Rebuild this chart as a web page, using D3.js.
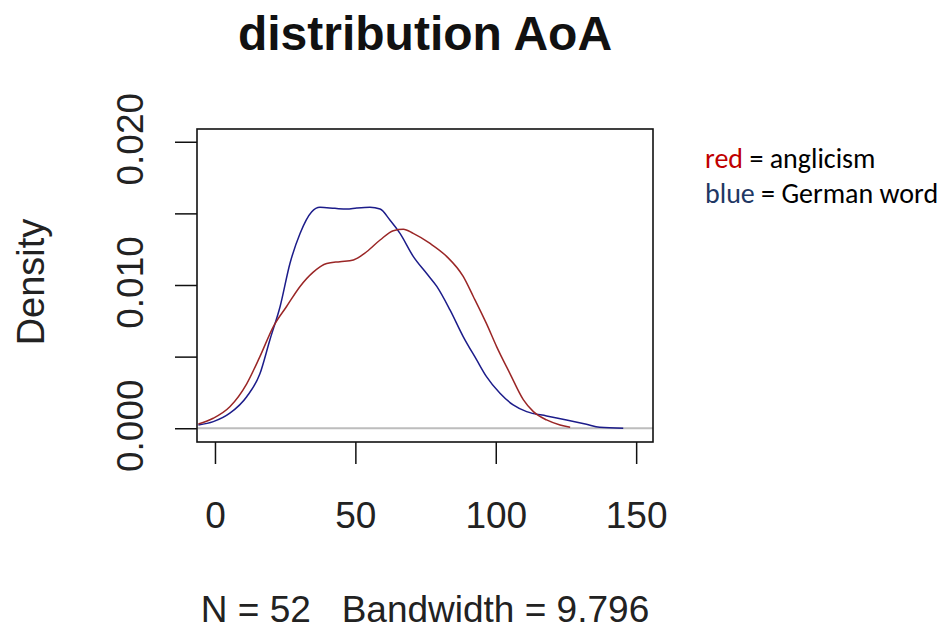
<!DOCTYPE html>
<html>
<head>
<meta charset="utf-8">
<script src="https://cdn.jsdelivr.net/npm/d3@7"></script>
<style>
  html, body { margin: 0; padding: 0; background: #fff; }
  svg { display: block; }
</style>
</head>
<body>
<svg id="chart" width="944" height="632"></svg>
<script>
// Kernel density estimates of age of acquisition (AoA)
const redAge = [-5.9, -0.6, 5.3, 11.3, 16, 20.8, 25.5, 30.3, 35, 39.8, 44.5, 49.3, 54, 58.8, 63.5, 67.1, 70.6, 76.6, 82.5, 88.4, 92, 96.7, 100.3, 105.1, 109.8, 113.4, 118.1, 122.9, 126.5];
const redDensity = [0.0003, 0.0007, 0.0015, 0.0031, 0.005, 0.0071, 0.0085, 0.0099, 0.0109, 0.0115, 0.01163, 0.01175, 0.01232, 0.01314, 0.01379, 0.01389, 0.0136, 0.0129, 0.012, 0.0106, 0.0092, 0.0073, 0.0057, 0.0038, 0.002, 0.00116, 0.00058, 0.00023, 0.00007];

const blueAge = [-5.9, -0.6, 5.3, 11.3, 16, 19.6, 23.2, 26.7, 30.3, 34.4, 37.4, 42.7, 46.9, 50.5, 55.2, 58.8, 62.3, 65.9, 70.6, 75.4, 79, 83.7, 88.4, 93.2, 96.7, 101.5, 106.2, 111, 118.1, 125.2, 132.3, 137, 145.4];
const blueDensity = [0.00023, 0.00046, 0.00105, 0.0022, 0.0038, 0.0062, 0.0085, 0.0115, 0.0136, 0.0151, 0.01542, 0.01535, 0.0153, 0.01537, 0.01542, 0.0153, 0.01454, 0.0136, 0.012, 0.0108, 0.0099, 0.00826, 0.0064, 0.00477, 0.0036, 0.00244, 0.00163, 0.00116, 0.00086, 0.00058, 0.00028, 0.00007, 0];

const xTicks = [0, 50, 100, 150];
const yTicks = [0, 0.005, 0.010, 0.015, 0.020];
const yTickLabels = ["0.000", "", "0.010", "", "0.020"];

const titleText = "distribution AoA";
const yLabel = "Density";
const subText = "N = 52   Bandwidth = 9.796";

const legendItems = [
  { key: "red", rest: " = anglicism", color: "#c00000" },
  { key: "blue", rest: " = German word", color: "#1f3864" }
];

const svg = d3.select("#chart");
const box = { left: 197, top: 129, right: 653, bottom: 442 };

const x = d3.scaleLinear().domain([-6.4, 156]).range([box.left, box.right]);
const y = d3.scaleLinear().domain([-0.00096, 0.02089]).range([box.bottom, box.top]);

const axisFont = "Liberation Sans, Arial, sans-serif";

// title
svg.append("text")
  .attr("x", 425).attr("y", 50)
  .attr("text-anchor", "middle")
  .attr("font-family", axisFont)
  .attr("font-weight", "bold")
  .attr("font-size", 48)
  .attr("fill", "#111")
  .text(titleText);

// zero reference line
svg.append("line")
  .attr("x1", box.left).attr("x2", box.right)
  .attr("y1", y(0)).attr("y2", y(0))
  .attr("stroke", "#bdbdbd").attr("stroke-width", 2);

// density curves
const line = (xs, ys) => d3.line()
  .x((d, i) => x(xs[i]))
  .y((d, i) => y(ys[i]))
  .curve(d3.curveMonotoneX)(xs);

svg.append("path")
  .attr("d", line(blueAge, blueDensity))
  .attr("fill", "none").attr("stroke", "#1c1c8a").attr("stroke-width", 1.5);

svg.append("path")
  .attr("d", line(redAge, redDensity))
  .attr("fill", "none").attr("stroke", "#9a2626").attr("stroke-width", 1.5);

// axes
const xAxis = svg.append("g")
  .attr("transform", `translate(0,${box.bottom})`)
  .call(d3.axisBottom(x).tickValues(xTicks).tickSize(22).tickPadding(12).tickFormat(d3.format("d")));
const yAxis = svg.append("g")
  .attr("transform", `translate(${box.left},0)`)
  .call(d3.axisLeft(y).tickValues(yTicks).tickSize(22).tickFormat((d, i) => yTickLabels[i]));

[xAxis, yAxis].forEach(g => {
  g.select(".domain").remove();
  g.selectAll(".tick line").attr("stroke", "#111").attr("stroke-width", 1.5);
  g.selectAll("text").attr("font-family", axisFont).attr("font-size", 37).attr("fill", "#222");
});

xAxis.selectAll(".tick text").attr("dy", null).attr("y", 86);

yAxis.selectAll(".tick text")
  .attr("x", null).attr("dy", null)
  .attr("text-anchor", "middle")
  .attr("transform", "translate(-54,-3) rotate(-90)");

// plot frame
svg.append("rect")
  .attr("x", box.left).attr("y", box.top)
  .attr("width", box.right - box.left).attr("height", box.bottom - box.top)
  .attr("fill", "none").attr("stroke", "#111").attr("stroke-width", 1.6);

// y axis label
svg.append("text")
  .attr("transform", "translate(44,282) rotate(-90)")
  .attr("text-anchor", "middle")
  .attr("font-family", axisFont)
  .attr("font-size", 38)
  .attr("fill", "#222")
  .text(yLabel);

// sample size and bandwidth
svg.append("text")
  .attr("x", 425).attr("y", 622)
  .attr("text-anchor", "middle")
  .attr("font-family", axisFont)
  .attr("font-size", 37)
  .attr("fill", "#222")
  .style("white-space", "pre")
  .text(subText);

// colour key
const legend = svg.append("g").attr("font-family", "Carlito, Lato, sans-serif").attr("font-size", 28);
legendItems.forEach((d, i) => {
  const t = legend.append("text").attr("x", 705).attr("y", 168 + i * 35);
  t.append("tspan").attr("fill", d.color).text(d.key);
  t.append("tspan").attr("fill", "#000").text(d.rest);
});
</script>
</body>
</html>
